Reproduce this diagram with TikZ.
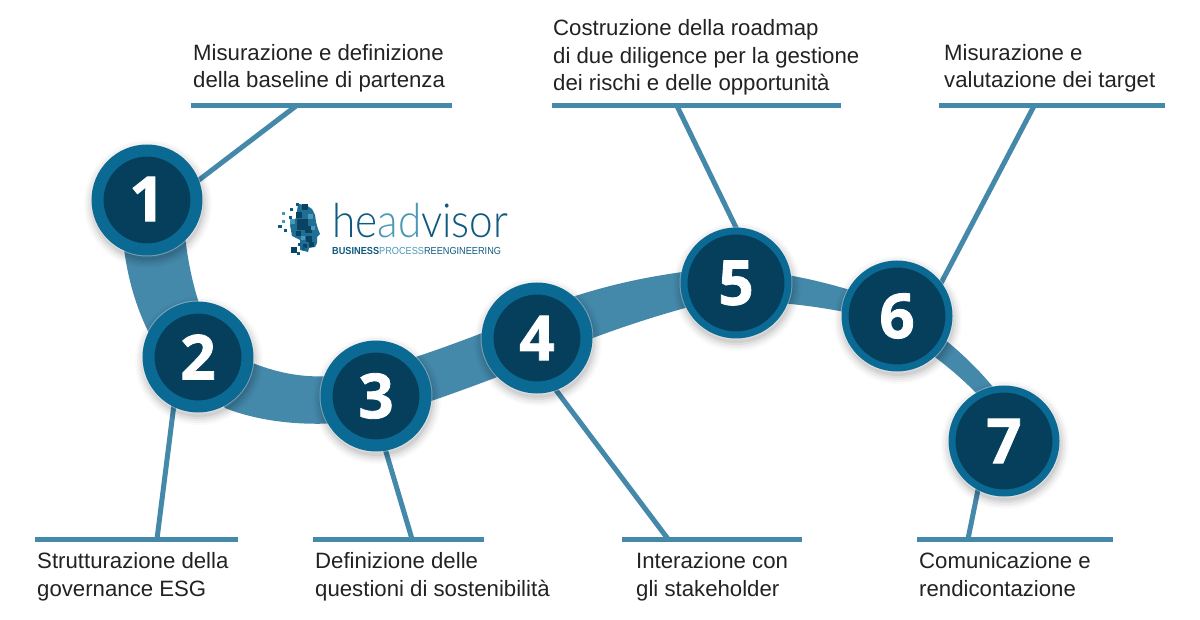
\documentclass[tikz,border=0pt]{standalone}
\usepackage{fontspec}
\setmainfont{Liberation Sans}
\newfontfamily\digitfont{Open Sans}[BoldFeatures={FakeBold=1.3}]
\newfontfamily\logofont{Lato Light}
\usetikzlibrary{backgrounds}
\definecolor{ringblue}{HTML}{0B6A94}
\definecolor{coreblue}{HTML}{053F5C}
\definecolor{bandblue}{HTML}{4488AA}
\definecolor{txt}{HTML}{222222}
\definecolor{logodark}{HTML}{0F5A80}
\definecolor{logolight}{HTML}{4A97B8}
\definecolor{logomid}{HTML}{1F6E93}
\definecolor{logodeep}{HTML}{0A4263}
\tikzset{
  x=1pt,y=-1pt,
  stepnode/.style={circle,draw=ringblue,fill=coreblue,line width=#1,minimum size=111pt-#1,inner sep=0pt,text=white,font=\digitfont\bfseries\fontsize{62}{62}\selectfont},
  stepnode/.default=12pt,
  leader/.style={draw=bandblue,line width=5pt},
  rulebar/.style={draw=bandblue,line width=5pt},
  label/.style={anchor=base west,align=left,inner sep=0pt,text=txt,font=\fontsize{22.2}{27.5}\selectfont},
}
\newcommand{\softshadow}[2]{%
  \foreach \r/\o in {64/0.02,62/0.03,60/0.04,58/0.05,56/0.06}{
    \fill[black,opacity=\o] (#1+1,#2+4) circle[radius=\r pt];
  }
  \fill[white,opacity=0.35] (#1,#2) circle[radius=56.5pt];}
\begin{document}
\begin{tikzpicture}
\useasboundingbox (0,0) rectangle (1200,620);
\softshadow{147}{200}\softshadow{198}{357}\softshadow{376}{396}\softshadow{537}{338}\softshadow{736}{283}\softshadow{897}{316}\softshadow{1004}{441}
\node[stepnode] (n1) at (147,200) {\raisebox{2pt}{1}};
\node[stepnode] (n2) at (198,357) {2};
\node[stepnode] (n3) at (376,396) {3};
\node[stepnode] (n4) at (537,338) {4};
\node[stepnode=7pt] (n5) at (736,283) {5};
\node[stepnode=7pt] (n6) at (897,316) {6};
\node[stepnode=7pt] (n7) at (1004,441) {7};
\coordinate (r1a) at (191,106); \coordinate (r1b) at (452,106); \coordinate (t1) at (296,106);
\coordinate (r2a) at (35,539);  \coordinate (r2b) at (238,539); \coordinate (t2) at (157,539);
\coordinate (r3a) at (313,539); \coordinate (r3b) at (484,539); \coordinate (t3) at (412,539);
\coordinate (r4a) at (622,539); \coordinate (r4b) at (802,539); \coordinate (t4) at (668,539);
\coordinate (r5a) at (552,106); \coordinate (r5b) at (841,106); \coordinate (t5) at (677,106);
\coordinate (r6a) at (939,106); \coordinate (r6b) at (1165,106); \coordinate (t6) at (1034,106);
\coordinate (r7a) at (917,539); \coordinate (r7b) at (1113,539); \coordinate (t7) at (968,539);
\begin{scope}[on background layer]
\fill[bandblue]
  (123,240) .. controls (127,280) and (138,312) .. (150,335)
  -- (198,370)
  -- (225,408) .. controls (255,420) and (295,426) .. (340,423)
  .. controls (375,420) and (410,410) .. (500,376)
  .. controls (560,350) and (620,325) .. (700,304)
  .. controls (745,298) and (800,303) .. (850,313)
  .. controls (905,330) and (950,365) .. (985,402)
  -- (997,392)
  .. controls (960,345) and (900,300) .. (850,290)
  .. controls (800,275) and (745,265) .. (690,271)
  .. controls (620,280) and (560,297) .. (490,330)
  .. controls (420,357) and (375,372) .. (330,376)
  .. controls (300,378) and (275,372) .. (250,362)
  -- (205,320)
  .. controls (195,295) and (188,265) .. (185,235) -- cycle;
\draw[leader,shorten <=-3pt] (n1.21) -- (t1);
\draw[leader,shorten <=-3pt] (n2.244) -- (t2);
\draw[leader,shorten <=-3pt] (n3.280) -- (t3);
\draw[leader,shorten <=-3pt] (n4.290) -- (t4);
\draw[leader,shorten <=-3pt] (n5.90) -- (t5);
\draw[leader,shorten <=-3pt] (n6.37) -- (t6);
\draw[leader,shorten <=-3pt] (n7.242) -- (t7);
\draw[rulebar] (r1a) -- (r1b);
\draw[rulebar] (r2a) -- (r2b);
\draw[rulebar] (r3a) -- (r3b);
\draw[rulebar] (r4a) -- (r4b);
\draw[rulebar] (r5a) -- (r5b);
\draw[rulebar] (r6a) -- (r6b);
\draw[rulebar] (r7a) -- (r7b);
\end{scope}
\node[label] (l1) at (193,88) {Misurazione e definizione\\della baseline di partenza};
\node[label] (l2) at (37,596) {Strutturazione della\\governance ESG};
\node[label] (l3) at (315,596) {Definizione delle\\questioni di sostenibilità};
\node[label] (l4) at (636,596) {Interazione con\\gli stakeholder};
\node[label] (l5) at (553,91) {Costruzione della roadmap\\di due diligence per la gestione\\dei rischi e delle opportunità};
\node[label] (l6) at (944,88) {Misurazione e\\valutazione dei target};
\node[label] (l7) at (919,596) {Comunicazione e\\rendicontazione};
\node[anchor=base west,inner sep=0pt,font=\logofont\fontsize{47}{47}\selectfont] (logo) at (332,238) {\scalebox{0.9}[1]{\textcolor{logodark}{he}\textcolor{logolight}{ad}\textcolor{logodark}{visor}}};
\node[anchor=base west,inner sep=0pt,font=\fontsize{10.2}{12}\selectfont] (tag) at (332,254.5) {\scalebox{0.9}[1]{\textcolor{logodark}{\textbf{BUSINESS}}\textcolor{logolight}{PROCESS}\textcolor{logodark}{REENGINEERING}}};
% logo head
\fill[logomid] (298,204) -- (306,205) -- (312,209) -- (315,215) -- (316,222) -- (318,229) -- (320,234) -- (317,237) -- (317,243) -- (315,247) -- (309,248) -- (308,252) -- (300,250) -- (300,240) -- (292,236) -- (290,225) -- (296,218) -- cycle;
\foreach \x/\y/\s in {296/212/6,291/247/6,302/204/6,297/219/11,305/226/7,296/231/5,306/236/6,309/242/5,303/244/4}{
  \fill[logodeep] (\x,\y) rectangle ++(\s,\s);}
\foreach \x/\y/\s in {296/203/3,290/208/3,289/216/3,278/225/3.5,284/229/3,298/243/3,297/252/3,302/247/3}{
  \fill[logodark] (\x,\y) rectangle ++(\s,\s);}
\foreach \x/\y/\s in {282/212/3,282/220/3,290/219/5,308/214/5,311/226/4,301/236/4}{
  \fill[logolight] (\x,\y) rectangle ++(\s,\s);}
\end{tikzpicture}
\end{document}
